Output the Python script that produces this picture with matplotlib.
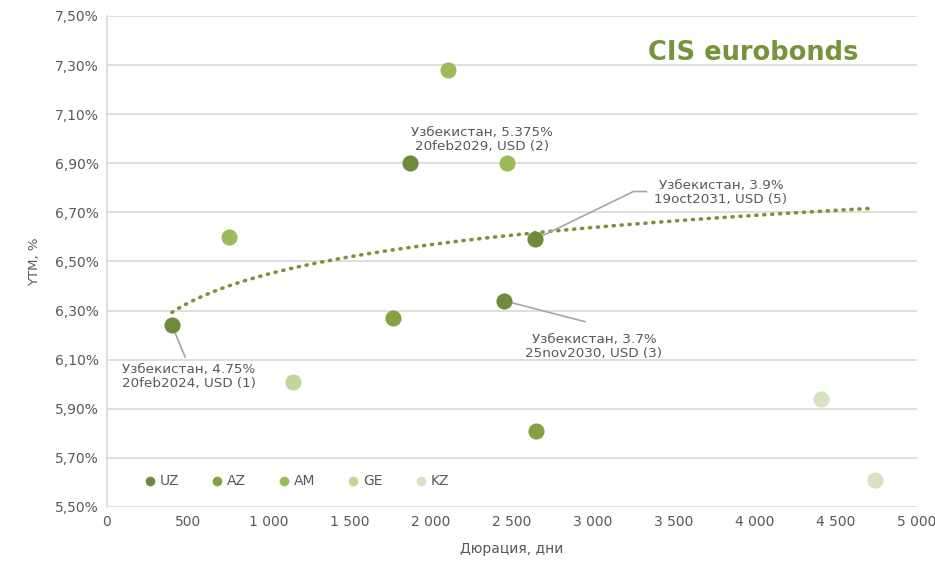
import numpy as np
import matplotlib.pyplot as plt
from matplotlib.ticker import FuncFormatter

plt.rcParams["font.family"] = ["DejaVu Sans"]

# duration (days) / YTM (%) by country
uz_dur = [401, 1870, 2451, 2642]
uz_ytm = [6.24, 6.90, 6.34, 6.59]
az_dur = [1765, 2648]
az_ytm = [6.27, 5.81]
am_dur = [753, 2105, 2469]
am_ytm = [6.60, 7.28, 6.90]
ge_dur = [1148]
ge_ytm = [6.01]
kz_dur = [4407, 4741]
kz_ytm = [5.94, 5.61]

series = [
    ("UZ", uz_dur, uz_ytm, "#708a3c"),
    ("AZ", az_dur, az_ytm, "#84a243"),
    ("AM", am_dur, am_ytm, "#9cbc59"),
    ("GE", ge_dur, ge_ytm, "#c2d59d"),
    ("KZ", kz_dur, kz_ytm, "#d7e3c0"),
]

# labels for some UZ bonds: (index in uz arrays, text, text position)
uz_labels = [
    (0, "Узбекистан, 4.75%\n20feb2024, USD (1)", (506, 6.03)),
    (1, "Узбекистан, 5.375%\n20feb2029, USD (2)", (2315, 6.995)),
    (2, "Узбекистан, 3.7%\n25nov2030, USD (3)", (3006, 6.155)),
    (3, "Узбекистан, 3.9%\n19oct2031, USD (5)", (3790, 6.78)),
]

TXT = "#595959"
GRID = "#d9d9d9"
FS = 9.7

fig = plt.figure(figsize=(9.35, 5.61), dpi=100)
ax = fig.add_axes([0.1144, 0.0963, 0.8663, 0.8752])

for name, xs, ys, col in series:
    ax.scatter(xs, ys, s=135, color=col, zorder=3, linewidths=0, label=name)

# log trendline over UZ points
b, a = np.polyfit(np.log(uz_dur), uz_ytm, 1)
tx = np.linspace(min(uz_dur), 4720, 200)
ax.plot(tx, a + b * np.log(tx), color="#77933c", lw=2.6,
        linestyle=(0, (0.3, 1.9)), dash_capstyle="round", zorder=2)

# leader lines + labels
i, txt, pos = uz_labels[0]
ax.plot([uz_dur[i], 483], [uz_ytm[i], 6.11], color="#a6a6a6", lw=1.2, zorder=2)
ax.text(*pos, txt, ha="center", va="center", color=TXT, fontsize=FS, linespacing=1.1)
i, txt, pos = uz_labels[1]
ax.text(*pos, txt, ha="center", va="center", color=TXT, fontsize=FS, linespacing=1.1)
i, txt, pos = uz_labels[2]
ax.plot([uz_dur[i], 2950], [uz_ytm[i], 6.255], color="#a6a6a6", lw=1.2, zorder=2)
ax.text(*pos, txt, ha="center", va="center", color=TXT, fontsize=FS, linespacing=1.1)
i, txt, pos = uz_labels[3]
ax.plot([uz_dur[i], 3250, 3330], [uz_ytm[i], 6.785, 6.785], color="#a6a6a6", lw=1.2, zorder=2)
ax.text(*pos, txt, ha="center", va="center", color=TXT, fontsize=FS, linespacing=1.1)

ax.set_xlim(0, 5000)
ax.set_ylim(5.5, 7.5)
ax.set_xticks(np.arange(0, 5001, 500))
ax.set_yticks(np.arange(5.5, 7.51, 0.2))
ax.xaxis.set_major_formatter(FuncFormatter(lambda v, p: f"{int(v):,}".replace(",", " ")))
ax.yaxis.set_major_formatter(FuncFormatter(lambda v, p: f"{v:.2f}%".replace(".", ",")))
ax.tick_params(length=0, colors=TXT, labelsize=10, pad=6)
ax.grid(axis="y", color=GRID, lw=1.2)
ax.set_axisbelow(True)
for s in ["top", "right", "bottom"]:
    ax.spines[s].set_visible(False)
ax.spines["left"].set_color(GRID)
ax.spines["left"].set_linewidth(1.2)

ax.set_ylabel("YTM, %", color=TXT, fontsize=9.5, labelpad=10)
ax.set_xlabel("Дюрация, дни", color=TXT, fontsize=10, labelpad=9)

ax.text(0.7975, 0.925, "CIS eurobonds", transform=ax.transAxes, ha="center", va="center",
        color="#77933c", fontsize=18.5, fontweight="bold")

leg = ax.legend(loc="lower left", bbox_to_anchor=(0.02, 0.013), ncol=5, frameon=False,
                fontsize=10, markerscale=0.6, handletextpad=-0.3, columnspacing=1.75,
                labelcolor=TXT)

fig.savefig("out.png", dpi=100)
